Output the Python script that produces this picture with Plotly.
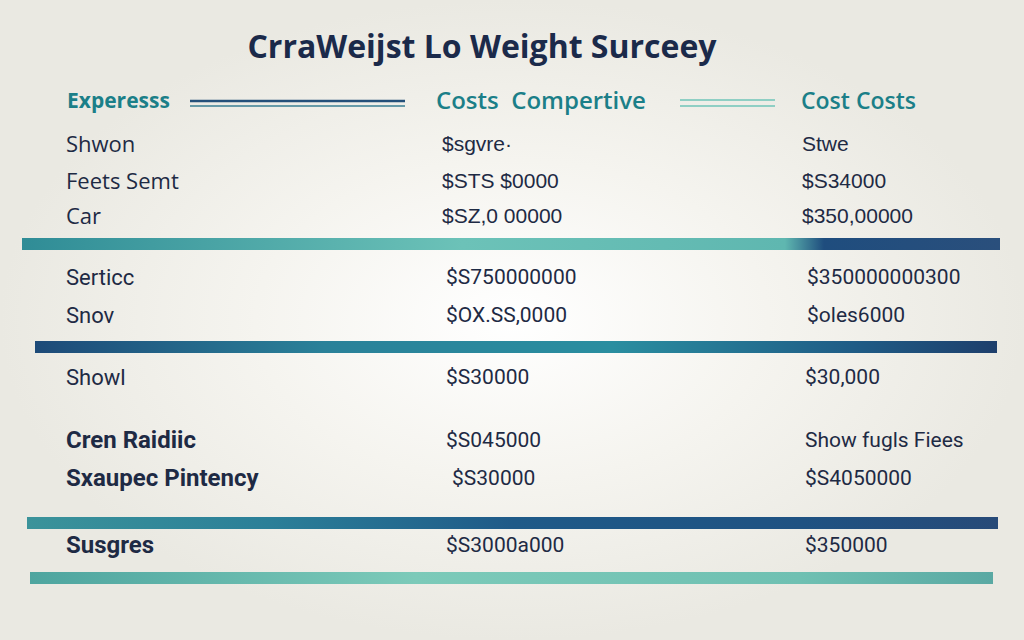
import plotly.graph_objects as go

# ---------------- data ----------------
title_text = "CrraWeijst Lo Weight Surceey"
headers = ["Experesss", "Costs  Compertive", "Cost Costs"]
categories = ["Shwon", "Feets Semt", "Car", "Serticc", "Snov", "Showl",
              "Cren Raidiic", "Sxaupec Pintency", "Susgres"]
costs_competitive = ["$sgvre·", "$STS $0000", "$SZ,0 00000", "$S750000000",
                     "$OX.SS,0000", "$S30000", "$S045000", "$S30000", "$S3000a000"]
cost_costs = ["Stwe", "$S34000", "$350,00000", "$350000000300", "$oles6000",
              "$30,000", "Show fugls Fiees", "$S4050000", "$350000"]

# ---------------- layout (positions / styles) ----------------
W, H = 1024, 640
row_y = [146, 183, 218, 279, 317, 379, 442, 480, 547]
col1_x = [66] * 9
col2_x = [442, 442, 442, 446, 446, 446, 446, 452, 446]
col3_x = [802, 802, 802, 807, 807, 805, 805, 805, 805]
header_x = [67, 436, 801]
header_y = 103
NAVY = "#1e2a44"
TEAL = "#1b7f88"

groups = [(0, 3), (3, 6), (6, 9)]
label_fonts = [
    dict(family="Open Sans", size=22, weight=500),
    dict(family="Roboto", size=22, weight=400),
    dict(family="Roboto", size=24, weight=700),
]
value_fonts = [
    dict(family="Liberation Sans", size=21, weight=400),
    dict(family="Roboto", size=21, weight=400),
    dict(family="Roboto", size=21, weight=400),
]

fig = go.Figure()

# background radial glow
fig.add_trace(go.Scatter(
    x=[0, W, W, 0, 0], y=[0, 0, H, H, 0], mode="lines", fill="toself",
    line=dict(width=0), hoverinfo="skip", showlegend=False,
    fillgradient=dict(type="radial",
                      colorscale=[[0, "#ffffff"], [0.5, "#f5f4ef"], [1, "#eae9e2"]]),
))

# bands: (x0, x1, y_top, y_bottom, colorscale)
bands = [
    (22, 1000, 238, 250, [[0, "#2f8c96"], [0.45, "#6cc2b8"], [0.78, "#5fb7b0"],
                          [0.82, "#1f4d7e"], [1, "#2a4f7c"]]),
    (35, 997, 341, 353, [[0, "#1d4a78"], [0.3, "#2a8199"], [0.6, "#2a8ea0"],
                         [0.85, "#1f5c86"], [1, "#1e3f6c"]]),
    (27, 998, 517, 529, [[0, "#3b939a"], [0.25, "#2b7f98"], [0.5, "#1f5a88"],
                         [0.8, "#1f5282"], [1, "#274a78"]]),
    (30, 993, 572, 584, [[0, "#4ea59f"], [0.4, "#7ccab9"], [0.8, "#6fc0b2"],
                         [1, "#5aa9a3"]]),
]
for x0, x1, yt, yb, cs in bands:
    fig.add_shape(type="rect", x0=x0, x1=x1, y0=yt - 4, y1=yb + 2,
                  fillcolor="#fbfcfb", line=dict(width=0), layer="below")
    fig.add_trace(go.Scatter(
        x=[x0, x1, x1, x0, x0], y=[yt, yt, yb, yb, yt], mode="lines", fill="toself",
        line=dict(width=0), hoverinfo="skip", showlegend=False,
        fillgradient=dict(type="horizontal", colorscale=cs),
    ))

# header double lines
fig.add_shape(type="line", x0=190, x1=405, y0=101, y1=101, line=dict(color="#24507a", width=2.5))
fig.add_shape(type="line", x0=190, x1=405, y0=106, y1=106, line=dict(color="#3a7f93", width=1.5))
fig.add_shape(type="line", x0=680, x1=775, y0=100, y1=100, line=dict(color="#8fcfc4", width=2))
fig.add_shape(type="line", x0=680, x1=775, y0=106, y1=106, line=dict(color="#8fcfc4", width=2))

# headers
header_fonts = [dict(family="Open Sans", size=21, weight=700),
                dict(family="Open Sans", size=24, weight=600),
                dict(family="Open Sans", size=23, weight=600)]
for i, h in enumerate(headers):
    fig.add_trace(go.Scatter(
        x=[header_x[i]], y=[header_y], text=[h], mode="text",
        textposition="middle right", hoverinfo="skip", showlegend=False,
        textfont=dict(color=TEAL, **header_fonts[i]),
    ))

# table rows
for g, (a, b) in enumerate(groups):
    fig.add_trace(go.Scatter(
        x=col1_x[a:b], y=row_y[a:b], text=categories[a:b], mode="text",
        textposition="middle right", hoverinfo="skip", showlegend=False,
        textfont=dict(color=NAVY, **label_fonts[g]),
    ))
    fig.add_trace(go.Scatter(
        x=col2_x[a:b], y=row_y[a:b], text=costs_competitive[a:b], mode="text",
        textposition="middle right", hoverinfo="skip", showlegend=False,
        textfont=dict(color=NAVY, **value_fonts[g]),
    ))
    fig.add_trace(go.Scatter(
        x=col3_x[a:b], y=row_y[a:b], text=cost_costs[a:b], mode="text",
        textposition="middle right", hoverinfo="skip", showlegend=False,
        textfont=dict(color=NAVY, **value_fonts[g]),
    ))

fig.update_layout(
    width=W, height=H,
    margin=dict(l=0, r=0, t=0, b=0),
    paper_bgcolor="#efeee8", plot_bgcolor="#efeee8",
    xaxis=dict(range=[0, W], visible=False, fixedrange=True),
    yaxis=dict(range=[H, 0], visible=False, fixedrange=True),
    title=dict(text=title_text, x=482 / W, xanchor="center", y=1 - 47 / H, yanchor="middle",
               font=dict(family="Open Sans", size=32, weight=700, color="#1b2a4a")),
    showlegend=False,
)

fig.write_html("out.html", config={"displayModeBar": False},
               post_script="document.body.style.margin='0';")
